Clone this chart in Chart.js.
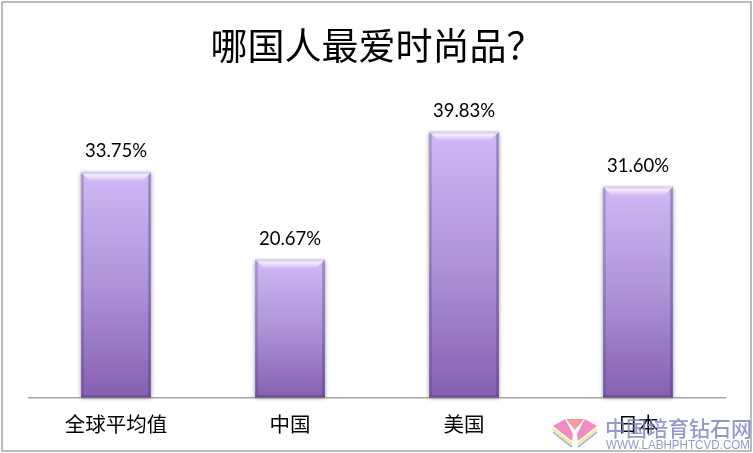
<!DOCTYPE html>
<html>
<head>
<meta charset="utf-8">
<style>
html, body { margin: 0; padding: 0; background: #fff; }
#wrap { position: relative; width: 753px; height: 453px; }
</style>
<script src="https://cdn.jsdelivr.net/npm/chart.js@4"></script>
</head>
<body>
<div id="wrap"><canvas id="myChart" width="753" height="453"></canvas></div>
<script>
const categories = ['全球平均值', '中国', '美国', '日本'];
const shareValues = [33.75, 20.67, 39.83, 31.6];
const chartTitle = '哪国人最爱时尚品？';
const watermarkName = '中国培育钻石网';
const watermarkUrl = 'WWW.LABHPHTCVD.COM';

// bars get a bevelled look, like the office chart style
const bevelBars = {
    id: 'bevelBars',
    afterDatasetsDraw(chart) {
        const c = chart.ctx;
        const bars = chart.getDatasetMeta(0).data;
        bars.forEach((bar, i) => {
            const l = bar.x - bar.width / 2, r = bar.x + bar.width / 2;
            const t = bar.y, b = bar.base;
            const d = 8;

            c.save();
            // soft shadow round the bar
            c.shadowColor = 'rgba(50,35,80,0.5)';
            c.shadowBlur = 4;
            c.shadowOffsetY = 1;
            const g = c.createLinearGradient(0, t, 0, b);
            g.addColorStop(0, '#d0b9f6');
            g.addColorStop(0.5, '#ae93d8');
            g.addColorStop(1, '#8660b0');
            c.fillStyle = g;
            c.fillRect(l, t, r - l, b - t);
            c.restore();

            // top bevel
            const tg = c.createLinearGradient(0, t, 0, t + d);
            tg.addColorStop(0, '#d9c8f5');
            tg.addColorStop(0.4, '#f3ebff');
            tg.addColorStop(1, '#d6c2f7');
            c.beginPath();
            c.moveTo(l, t); c.lineTo(r, t); c.lineTo(r - d, t + d); c.lineTo(l + d, t + d); c.closePath();
            c.fillStyle = tg;
            c.fill();

            // side edges
            c.fillStyle = 'rgba(60,42,95,0.25)';
            c.beginPath();
            c.moveTo(l, t); c.lineTo(l + 2.5, t + 3); c.lineTo(l + 2.5, b - 2); c.lineTo(l, b); c.closePath();
            c.fill();
            c.fillStyle = 'rgba(60,42,95,0.35)';
            c.beginPath();
            c.moveTo(r, t); c.lineTo(r - 2.5, t + 3); c.lineTo(r - 2.5, b - 2); c.lineTo(r, b); c.closePath();
            c.fill();

            // bottom edge
            c.fillStyle = 'rgba(60,42,95,0.35)';
            c.fillRect(l, b - 2, r - l, 2);

            // value label
            c.fillStyle = '#000';
            c.font = '18.5px Lato';
            c.textAlign = 'center';
            c.textBaseline = 'middle';
            c.fillText(shareValues[i].toFixed(2) + '%', bar.x, t - 21);
        });
    }
};

// one half of the logo, mirrored round its stem for the other half
function logoWing(c, dir) {
    const x = v => 575 + dir * v;
    c.beginPath(); c.moveTo(x(22), 426); c.lineTo(x(10), 419); c.lineTo(x(2), 434); c.lineTo(x(3), 441); c.closePath();
    c.fillStyle = '#f48cc4'; c.fill();
    c.lineWidth = 2;
    c.strokeStyle = '#f7ee7a';
    c.beginPath(); c.moveTo(x(22), 429); c.lineTo(x(3), 444); c.stroke();
    c.strokeStyle = '#b4b3e4';
    c.beginPath(); c.moveTo(x(22), 432); c.lineTo(x(3), 447); c.stroke();
}

// frame and the site mark in the lower right corner
const pageDecor = {
    id: 'pageDecor',
    afterDraw(chart) {
        const c = chart.ctx;
        c.save();
        c.strokeStyle = '#a6a6a6';
        c.lineWidth = 1.5;
        c.strokeRect(2, 2, 749, 449);

        logoWing(c, -1);
        logoWing(c, 1);
        c.beginPath(); c.moveTo(566, 419); c.lineTo(584, 419); c.lineTo(575, 430); c.closePath();
        c.fillStyle = '#f59a9e'; c.fill();

        c.fillStyle = 'rgba(125,125,195,0.8)';
        c.textAlign = 'left';
        c.textBaseline = 'middle';
        c.font = '500 21px "Noto Sans CJK SC"';
        c.fillText(watermarkName, 605, 428);
        c.font = '13px "Liberation Sans"';
        c.fillText(watermarkUrl, 606, 445, 144);
        c.restore();
    }
};

new Chart(document.getElementById('myChart'), {
    type: 'bar',
    data: {
        labels: categories,
        datasets: [{
            data: shareValues,
            backgroundColor: 'rgba(0,0,0,0)',
            categoryPercentage: 0.4,
            barPercentage: 1
        }]
    },
    plugins: [bevelBars, pageDecor],
    options: {
        responsive: false,
        animation: false,
        layout: { padding: { left: 29, right: 28, top: 0, bottom: 1 } },
        plugins: {
            legend: { display: false },
            tooltip: { enabled: false },
            title: {
                display: true,
                text: chartTitle,
                color: '#000',
                font: { family: '"Noto Sans CJK SC"', size: 37, weight: '400' },
                padding: { top: 24, bottom: 29 }
            }
        },
        scales: {
            y: {
                display: false,
                min: 0,
                max: 45
            },
            x: {
                grid: { display: false, drawTicks: false },
                border: { color: '#a6a6a6', width: 1.5 },
                ticks: {
                    color: '#000',
                    padding: 15,
                    font: { family: '"Noto Sans CJK SC"', size: 20.5 }
                }
            }
        }
    }
});
</script>
</body>
</html>
